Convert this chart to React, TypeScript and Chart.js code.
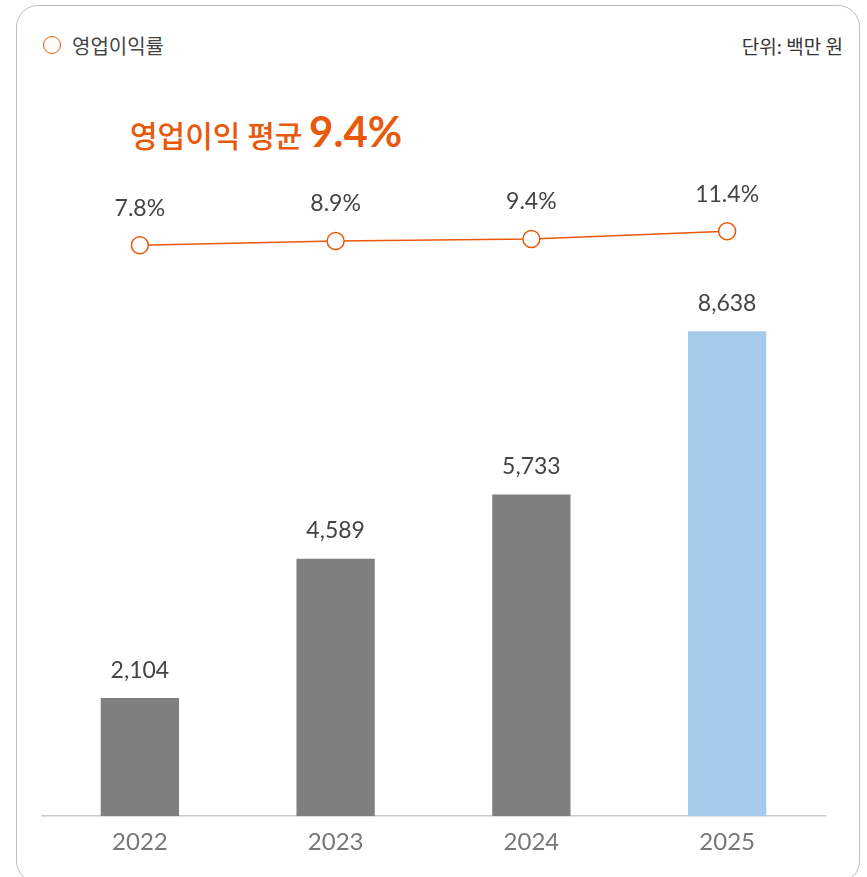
import React, { useEffect, useRef } from "react";
import { Chart, registerables } from "chart.js";

Chart.register(...registerables);

const years = ["2022", "2023", "2024", "2025"];
const operatingProfit = [2104, 4589, 5733, 8638];
const operatingMargin = [7.8, 8.9, 9.4, 11.4];
const legendLabel = "영업이익률";
const unitLabel = "단위: 백만 원";
const headlineText = "영업이익 평균";
const headlineValue = "9.4%";

const ORANGE = "#e8590c";
const GRAY_BAR = "#7f7f7f";
const BLUE_BAR = "#a6caec";
const NUM_FONT = "Lato, 'Noto Sans', sans-serif";
const KR_FONT = "'Noto Sans CJK KR', 'Noto Sans', sans-serif";

const valueLabels = {
  id: "valueLabels",
  afterDatasetsDraw(chart: any) {
    const ctx = chart.ctx;
    ctx.save();
    ctx.textAlign = "center";
    ctx.textBaseline = "middle";
    ctx.fillStyle = "#444444";
    ctx.font = `400 23px ${NUM_FONT}`;
    const barMeta = chart.getDatasetMeta(0);
    barMeta.data.forEach((el: any, i: number) => {
      ctx.fillText(operatingProfit[i].toLocaleString("en-US"), el.x, el.y - 28);
    });
    const lineMeta = chart.getDatasetMeta(1);
    lineMeta.data.forEach((el: any, i: number) => {
      ctx.fillText(operatingMargin[i].toFixed(1) + "%", el.x, el.y - 37);
    });
    ctx.restore();
  },
};

export default function App() {
  const canvasRef = useRef<HTMLCanvasElement | null>(null);

  useEffect(() => {
    if (!canvasRef.current) return;
    const chart = new Chart(canvasRef.current, {
      type: "bar",
      data: {
        labels: years,
        datasets: [
          {
            type: "bar",
            label: "영업이익",
            data: operatingProfit,
            backgroundColor: operatingProfit.map((_, i) =>
              i === operatingProfit.length - 1 ? BLUE_BAR : GRAY_BAR
            ),
            barPercentage: 0.5,
            categoryPercentage: 0.8,
            yAxisID: "y",
            order: 2,
          },
          {
            type: "line",
            label: legendLabel,
            data: operatingMargin,
            borderColor: ORANGE,
            borderWidth: 1.5,
            pointRadius: 8.5,
            pointBackgroundColor: "#ffffff",
            pointBorderColor: ORANGE,
            pointBorderWidth: 1.5,
            yAxisID: "y1",
            order: 1,
          } as any,
        ],
      },
      options: {
        responsive: true,
        maintainAspectRatio: false,
        animation: false,
        layout: { padding: { left: 42, right: 42, top: 100, bottom: 16 } },
        plugins: {
          legend: { display: false },
          tooltip: { enabled: false },
          title: { display: false },
        },
        scales: {
          x: {
            grid: { display: false },
            border: { display: true, color: "#cccccc", width: 1.5 },
            ticks: {
              color: "#777777",
              padding: 4,
              font: { family: NUM_FONT, size: 24, weight: "400" as any },
            },
          },
          y: {
            display: false,
            min: 0,
            max: 12760,
          },
          y1: {
            display: false,
            min: -138.77,
            max: 45.09,
          },
        },
      },
      plugins: [valueLabels],
    });
    return () => chart.destroy();
  }, []);

  return (
    <div style={{ position: "absolute", left: 0, top: 0, width: 867, height: 877, overflow: "hidden" }}>
      <div
        style={{
          position: "absolute",
          left: 16,
          top: 5,
          width: 844,
          height: 878,
          boxSizing: "border-box",
          border: "1.5px solid #bdbdbd",
          borderRadius: 22,
          background: "#ffffff",
        }}
      />
      <div
        style={{
          position: "absolute",
          left: 43,
          top: 36,
          width: 18,
          height: 18,
          boxSizing: "border-box",
          border: `1.5px solid ${ORANGE}`,
          borderRadius: "50%",
        }}
      />
      <div
        style={{
          position: "absolute",
          left: 72,
          top: 31,
          height: 30,
          lineHeight: "30px",
          fontFamily: KR_FONT,
          fontSize: 20,
          color: "#444444",
          whiteSpace: "nowrap",
        }}
      >
        {legendLabel}
      </div>
      <div
        style={{
          position: "absolute",
          right: 867 - 843,
          top: 31,
          height: 30,
          lineHeight: "30px",
          fontFamily: KR_FONT,
          fontSize: 19,
          color: "#333333",
          whiteSpace: "nowrap",
        }}
      >
        {unitLabel}
      </div>
      <div
        style={{
          position: "absolute",
          left: 130,
          top: 108,
          height: 46,
          lineHeight: "46px",
          color: ORANGE,
          whiteSpace: "nowrap",
        }}
      >
        <span style={{ fontFamily: KR_FONT, fontSize: 30, fontWeight: 500 }}>{headlineText} </span>
        <span style={{ fontFamily: NUM_FONT, fontSize: 42, fontWeight: 700 }}>{headlineValue}</span>
      </div>
      <div style={{ position: "absolute", left: 0, top: 0, width: 867, height: 877 }}>
        <canvas ref={canvasRef} />
      </div>
    </div>
  );
}
